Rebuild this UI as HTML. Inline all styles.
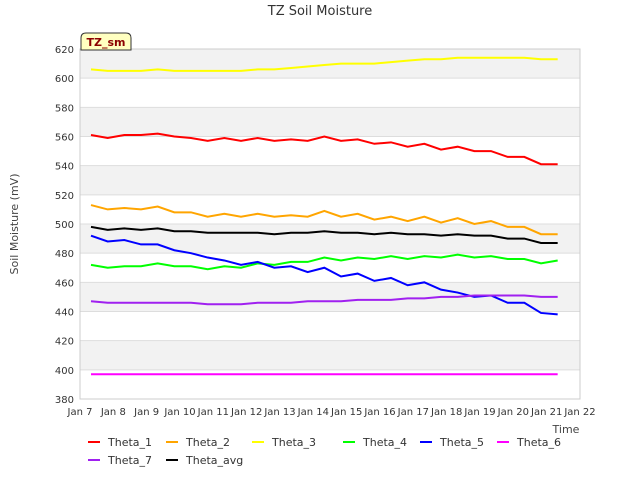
<!DOCTYPE html>
<html><head><meta charset="utf-8"><style>
body{margin:0;background:#fff;font-family:"Liberation Sans",sans-serif}
svg text{font-family:"DejaVu Sans","Liberation Sans",sans-serif}
</style></head><body>
<svg id="c" width="640" height="480">
<text x="320" y="15" text-anchor="middle" font-size="13" fill="#333">TZ Soil Moisture</text>
<text transform="translate(18,224) rotate(-90)" text-anchor="middle" font-size="11" fill="#444">Soil Moisture (mV)</text>
<text x="566" y="433" text-anchor="middle" font-size="11" fill="#444">Time</text>
<g id="grid"></g><g id="series"></g>
<g>
<path d="M81,50 L81,38 Q81,33 86,33 L126,33 Q131,33 131,38 L131,50 Z" fill="#ffffc0" stroke="#333"/>
<text x="106" y="46" text-anchor="middle" font-size="11" font-weight="bold" fill="#8b0000">TZ_sm</text></g>
<g id="legend"></g>
</svg>
<script>
const times=[];for(let i=0;i<29;i++)times.push(7.33+i*0.5);
const theta1=[561,559,561,561,562,560,559,557,559,557,559,557,558,557,560,557,558,555,556,553,555,551,553,550,550,546,546,541,541];
const theta2=[513,510,511,510,512,508,508,505,507,505,507,505,506,505,509,505,507,503,505,502,505,501,504,500,502,498,498,493,493];
const theta3=[606,605,605,605,606,605,605,605,605,605,606,606,607,608,609,610,610,610,611,612,613,613,614,614,614,614,614,613,613];
const theta4=[472,470,471,471,473,471,471,469,471,470,473,472,474,474,477,475,477,476,478,476,478,477,479,477,478,476,476,473,475];
const theta5=[492,488,489,486,486,482,480,477,475,472,474,470,471,467,470,464,466,461,463,458,460,455,453,450,451,446,446,439,438];
const theta6=[397,397,397,397,397,397,397,397,397,397,397,397,397,397,397,397,397,397,397,397,397,397,397,397,397,397,397,397,397];
const theta7=[447,446,446,446,446,446,446,445,445,445,446,446,446,447,447,447,448,448,448,449,449,450,450,451,451,451,451,450,450];
const thetaAvg=[498,496,497,496,497,495,495,494,494,494,494,493,494,494,495,494,494,493,494,493,493,492,493,492,492,490,490,487,487];
const yTicks=[380,400,420,440,460,480,500,520,540,560,580,600,620];
const xTicks=[7,8,9,10,11,12,13,14,15,16,17,18,19,20,21,22];
const X0=80,X1=580,Y0=49,Y1=399;
const xs=d=>X0+(d-7)/15*(X1-X0);
const ys=v=>Y0+(620-v)/240*(Y1-Y0);
const NS="http://www.w3.org/2000/svg";
function mk(t,a,p){const e=document.createElementNS(NS,t);for(const k in a)e.setAttribute(k,a[k]);p.appendChild(e);return e;}
const g=document.getElementById('grid');
for(let i=0;i<yTicks.length-1;i++){
 const r=mk('rect',{x:X0,y:ys(yTicks[i+1]),width:X1-X0,height:ys(yTicks[i])-ys(yTicks[i+1]),fill:i%2==1?'#f2f2f2':'#fff'},g);
 
 
}
yTicks.forEach(v=>{
 const l=mk('line',{x1:X0,x2:X1,y1:ys(v),y2:ys(v),stroke:'#ddd'},g);
 
 
 const t=mk('text',{x:X0-6,y:ys(v)+4,'text-anchor':'end','font-size':10,fill:'#333'},g);t.textContent=v;
 
 
});
xTicks.forEach(d=>{
 const t=mk('text',{x:xs(d),y:Y1+16,'text-anchor':'middle','font-size':10,fill:'#333'},g);t.textContent='Jan '+d;
 
 
});
const fr=mk('rect',{x:X0,y:Y0,width:X1-X0,height:Y1-Y0,fill:'none',stroke:'#ccc'},g);


const series=[['Theta_1',theta1,'#ff0000'],['Theta_2',theta2,'#ffa500'],['Theta_3',theta3,'#ffff00'],['Theta_4',theta4,'#00ff00'],['Theta_5',theta5,'#0000ff'],['Theta_6',theta6,'#ff00ff'],['Theta_7',theta7,'#a020f0'],['Theta_avg',thetaAvg,'#000000']];
const sg=document.getElementById('series');
series.forEach(s=>{
 const p=mk('polyline',{points:times.map((t,i)=>xs(t)+','+ys(s[1][i])).join(' '),fill:'none',stroke:s[2],'stroke-width':2},sg);
 
 
});
const lg=document.getElementById('legend');
const pos=[['Theta_1',88,442,'#ff0000'],['Theta_2',166,442,'#ffa500'],['Theta_3',252,442,'#ffff00'],['Theta_4',343,442,'#00ff00'],['Theta_5',420,442,'#0000ff'],['Theta_6',497,442,'#ff00ff'],['Theta_7',88,460,'#a020f0'],['Theta_avg',166,460,'#000000']];
pos.forEach(p=>{
 const e=mk('g',{},lg);
 
 
 mk('line',{x1:p[1],x2:p[1]+12,y1:p[2],y2:p[2],stroke:p[3],'stroke-width':2},e);
 const t=mk('text',{x:p[1]+20,y:p[2]+4,'font-size':11,fill:'#333'},e);t.textContent=p[0];
});
</script>
</body></html>
